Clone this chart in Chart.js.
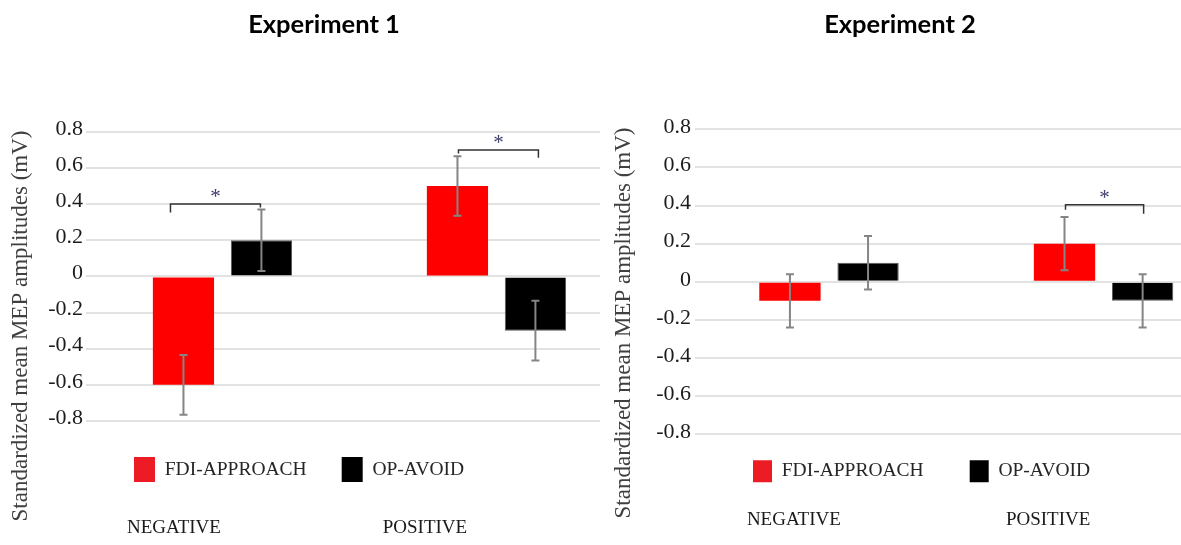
<!DOCTYPE html>
<html>
<head>
<meta charset="utf-8">
<script src="https://cdn.jsdelivr.net/npm/chart.js"></script>
<style>
  html, body { margin: 0; padding: 0; background: #fff; overflow: hidden; }
  #wrap { position: relative; width: 1181px; height: 545px; }
  canvas { position: absolute; top: 0; }
  #exp1 { left: 0; }
  #exp2 { left: 600px; }
</style>
</head>
<body>
<div id="wrap">
  <canvas id="exp1" width="600" height="545"></canvas>
  <canvas id="exp2" width="581" height="545"></canvas>
</div>
<script>
// values (mV, standardized)
var categories = ['NEGATIVE', 'POSITIVE'];
var seriesNames = ['FDI-APPROACH', 'OP-AVOID'];

var exp1Approach = [-0.6, 0.5];
var exp1ApproachErr = [0.165, 0.165];
var exp1Avoid = [0.2, -0.3];
var exp1AvoidErr = [0.17, 0.165];

var exp2Approach = [-0.1, 0.2];
var exp2ApproachErr = [0.14, 0.14];
var exp2Avoid = [0.1, -0.1];
var exp2AvoidErr = [0.14, 0.14];

var yTickValues = [-0.8, -0.6, -0.4, -0.2, 0, 0.2, 0.4, 0.6, 0.8];
var yTickLabels = ['-0.8', '-0.6', '-0.4', '-0.2', '0', '0.2', '0.4', '0.6', '0.8'];

// significance brackets: category, bracket level, where each leg ends
var exp1Sig = [
  { group: 0, level: 0.40, endA: 0.354, endB: 0.381 },
  { group: 1, level: 0.70, endA: 0.68, endB: 0.657 }
];
var exp2Sig = [
  { group: 1, level: 0.404, endA: 0.378, endB: 0.357 }
];

var yTitle = 'Standardized mean MEP amplitudes (mV)';
var serif = 'Liberation Serif, Times New Roman, serif';

// error bars, brackets, y title, legend nudge
var extras = {
  id: 'extras',
  afterLayout: function (chart, args, o) {
    var lg = chart.legend;
    lg.left += o.legendDx; lg.right += o.legendDx;
    lg.top += o.legendDy;
    // keep the clip box tall enough when moving up
    lg.bottom = Math.max(lg.bottom, lg.bottom + o.legendDy);
  },
  afterDatasetsDraw: function (chart, args, o) {
    var ctx = chart.ctx, ys = chart.scales.y;
    ctx.save();
    ctx.strokeStyle = '#858585';
    ctx.lineWidth = 2;
    chart.data.datasets.forEach(function (ds, di) {
      chart.getDatasetMeta(di).data.forEach(function (bar, j) {
        var v = ds.data[j].y, e = ds.errors[j];
        var top = ys.getPixelForValue(v + e), bot = ys.getPixelForValue(v - e);
        ctx.beginPath();
        ctx.moveTo(bar.x, top); ctx.lineTo(bar.x, bot);
        ctx.moveTo(bar.x - 4, top); ctx.lineTo(bar.x + 4, top);
        ctx.moveTo(bar.x - 4, bot); ctx.lineTo(bar.x + 4, bot);
        ctx.stroke();
      });
    });

    var a = chart.getDatasetMeta(0).data, b = chart.getDatasetMeta(1).data;
    o.sig.forEach(function (s, k) {
      var nudge = o.bracketNudge[k];
      var x1 = a[s.group].x + nudge[0], x2 = b[s.group].x + nudge[1];
      var yl = ys.getPixelForValue(s.level);
      ctx.strokeStyle = '#333';
      ctx.lineWidth = 1.5;
      ctx.beginPath();
      ctx.moveTo(x1, ys.getPixelForValue(s.endA));
      ctx.lineTo(x1, yl);
      ctx.lineTo(x2, yl);
      ctx.lineTo(x2, ys.getPixelForValue(s.endB));
      ctx.stroke();
      ctx.fillStyle = '#3f3f6e';
      ctx.font = '21px ' + serif;
      ctx.textAlign = 'center';
      ctx.textBaseline = 'alphabetic';
      ctx.fillText('*', (x1 + x2) / 2, yl - 1);
    });
    ctx.restore();
  },
  afterDraw: function (chart, args, o) {
    var ctx = chart.ctx;
    ctx.save();
    ctx.translate(o.titleX, o.titleY);
    ctx.rotate(-Math.PI / 2);
    ctx.textAlign = 'center';
    ctx.textBaseline = 'middle';
    ctx.font = '23px ' + serif;
    ctx.fillStyle = '#404040';
    ctx.fillText(yTitle, 0, 0);
    ctx.restore();
  }
};

function buildPanel(id, title, approach, approachErr, avoid, avoidErr, sig, look) {
  var legendFill = ['#ed1c24', '#000000'];
  return new Chart(document.getElementById(id), {
    type: 'bar',
    data: {
      datasets: [{
        label: seriesNames[0],
        data: approach.map(function (v, i) { return { x: i, y: v }; }),
        errors: approachErr,
        backgroundColor: '#ff0000',
        borderWidth: 0
      }, {
        label: seriesNames[1],
        data: avoid.map(function (v, i) { return { x: i, y: v }; }),
        errors: avoidErr,
        backgroundColor: '#000000',
        borderColor: '#5a5a5a',
        borderWidth: 1
      }]
    },
    options: {
      responsive: false,
      animation: false,
      categoryPercentage: 0.569,
      barPercentage: 0.785,
      layout: { padding: { left: look.padLeft } },
      scales: {
        x: {
          type: 'linear',
          display: false,
          offset: false,
          min: look.xMin,
          max: look.xMax,
          afterBuildTicks: function (axis) {
            axis.ticks = categories.map(function (c, i) { return { value: i }; });
          }
        },
        x2: {
          type: 'linear',
          position: 'bottom',
          weight: 2000,
          offset: false,
          min: look.xMin,
          max: look.xMax,
          grid: { display: false, drawTicks: false },
          border: { display: false },
          afterBuildTicks: function (axis) {
            axis.ticks = look.labelAt.map(function (v) { return { value: v }; });
          },
          afterFit: function (axis) { axis.height = look.xAxisH; },
          ticks: {
            autoSkip: false,
            maxRotation: 0,
            padding: look.xLabelPad,
            color: '#1a1a1a',
            font: { family: serif, size: 19 },
            callback: function (v, i) { return categories[i]; }
          }
        },
        y: {
          min: -0.8,
          max: 0.8,
          afterBuildTicks: function (axis) {
            axis.ticks = yTickValues.map(function (v) { return { value: v }; });
          },
          afterFit: function (axis) { axis.width = look.yAxisW; },
          grid: { color: '#e2e2e2', lineWidth: 2, drawTicks: false },
          border: { display: false },
          ticks: {
            padding: look.tickPad,
            labelOffset: look.tickShift,
            color: '#1c1c1c',
            font: { family: serif, size: 22 },
            callback: function (v, i) { return yTickLabels[i]; }
          }
        }
      },
      plugins: {
        title: {
          display: true,
          text: title,
          color: '#000',
          font: { family: 'Lato, Open Sans, sans-serif', size: 25.5, weight: 'bold' },
          padding: look.titlePad
        },
        legend: {
          position: 'bottom',
          align: 'start',
          fullSize: false,
          maxHeight: look.legend.maxH,
          labels: {
            boxWidth: look.legend.boxW,
            boxHeight: look.legend.boxH,
            padding: look.legend.pad,
            color: '#262626',
            font: { family: serif, size: 19.5 },
            generateLabels: function (chart) {
              var items = Chart.defaults.plugins.legend.labels.generateLabels(chart);
              items.forEach(function (it, i) { it.fillStyle = legendFill[i]; it.lineWidth = 0; });
              return items;
            }
          }
        },
        tooltip: { enabled: false },
        extras: {
          legendDx: look.legend.dx,
          legendDy: look.legend.dy,
          sig: sig,
          bracketNudge: look.bracketNudge,
          titleX: look.yTitleX,
          titleY: look.yTitleY
        }
      }
    },
    plugins: [extras]
  });
}

buildPanel('exp1', 'Experiment 1', exp1Approach, exp1ApproachErr, exp1Avoid, exp1AvoidErr, exp1Sig, {
  padLeft: 48, yAxisW: 38, xMin: -0.498, xMax: 1.378,
  labelAt: [-0.177, 0.739], xLabelPad: 26, xAxisH: 54,
  titlePad: { top: 9, bottom: 92.2 },
  legend: { dx: 13, dy: 1, boxW: 21, boxH: 25, pad: 35, maxH: 70 },
  tickPad: 3, tickShift: -3,
  bracketNudge: [[-13, -1], [1, 3]],
  yTitleX: 21, yTitleY: 326
});

buildPanel('exp2', 'Experiment 2', exp2Approach, exp2ApproachErr, exp2Avoid, exp2AvoidErr, exp2Sig, {
  padLeft: 19, yAxisW: 76, xMin: -0.488, xMax: 1.282,
  labelAt: [-0.128, 0.798], xLabelPad: 16, xAxisH: 52.7,
  titlePad: { top: 9, bottom: 89.7 },
  legend: { dx: 12, dy: -20, boxW: 19, boxH: 22, pad: 46, maxH: 58 },
  tickPad: 4, tickShift: -2,
  bracketNudge: [[1, 1]],
  yTitleX: 24, yTitleY: 323
});
</script>
</body>
</html>
